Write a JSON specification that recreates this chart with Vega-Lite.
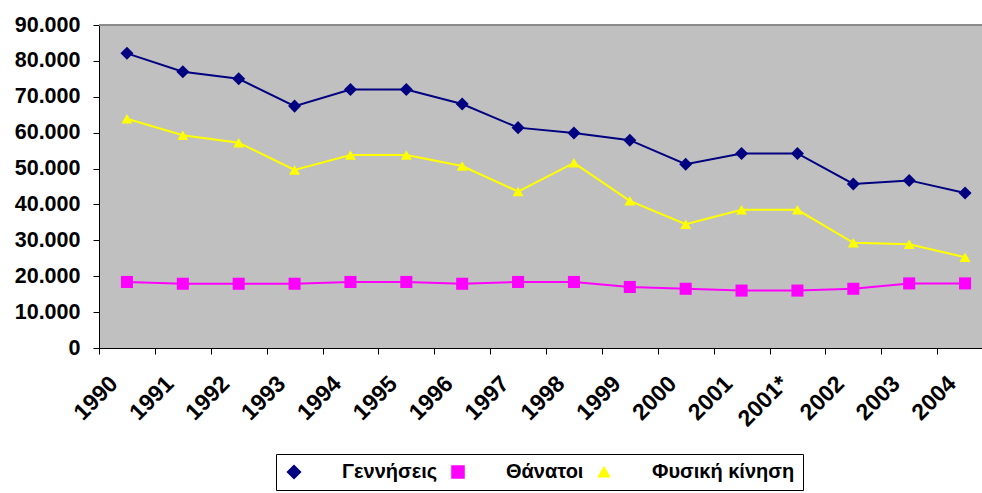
{
  "$schema": "https://vega.github.io/schema/vega-lite/v6.json",
  "autosize": {"type": "none"},
  "padding": {"left": 99, "top": 25, "right": 0, "bottom": 145},
  "width": 883,
  "height": 323,
  "background": "white",
  "config": {
    "view": {"stroke": null, "fill": "#C0C0C0"},
    "font": "Liberation Sans",
    "legend": {
      "title": null,
      "orient": "none",
      "legendX": 177,
      "legendY": 429,
      "direction": "horizontal",
      "strokeColor": "black",
      "fillColor": "white",
      "padding": 8,
      "labelFont": "Liberation Sans",
      "labelFontWeight": "bold",
      "labelFontSize": 20,
      "labelColor": "black",
      "labelLimit": 0,
      "symbolSize": 289,
      "labelOffset": 38,
      "columnPadding": 10
    }
  },
  "data": {
    "values": [
      {"year": "1990", "series": "Γεννήσεις", "value": 82100},
      {"year": "1991", "series": "Γεννήσεις", "value": 77000},
      {"year": "1992", "series": "Γεννήσεις", "value": 75000},
      {"year": "1993", "series": "Γεννήσεις", "value": 67400},
      {"year": "1994", "series": "Γεννήσεις", "value": 72000},
      {"year": "1995", "series": "Γεννήσεις", "value": 72000},
      {"year": "1996", "series": "Γεννήσεις", "value": 68000},
      {"year": "1997", "series": "Γεννήσεις", "value": 61400},
      {"year": "1998", "series": "Γεννήσεις", "value": 59900},
      {"year": "1999", "series": "Γεννήσεις", "value": 57900},
      {"year": "2000", "series": "Γεννήσεις", "value": 51200},
      {"year": "2001", "series": "Γεννήσεις", "value": 54200},
      {"year": "2001*", "series": "Γεννήσεις", "value": 54200},
      {"year": "2002", "series": "Γεννήσεις", "value": 45700},
      {"year": "2003", "series": "Γεννήσεις", "value": 46700},
      {"year": "2004", "series": "Γεννήσεις", "value": 43200},
      {"year": "1990", "series": "Θάνατοι", "value": 18400},
      {"year": "1991", "series": "Θάνατοι", "value": 17900},
      {"year": "1992", "series": "Θάνατοι", "value": 17900},
      {"year": "1993", "series": "Θάνατοι", "value": 17900},
      {"year": "1994", "series": "Θάνατοι", "value": 18400},
      {"year": "1995", "series": "Θάνατοι", "value": 18400},
      {"year": "1996", "series": "Θάνατοι", "value": 17900},
      {"year": "1997", "series": "Θάνατοι", "value": 18400},
      {"year": "1998", "series": "Θάνατοι", "value": 18400},
      {"year": "1999", "series": "Θάνατοι", "value": 17000},
      {"year": "2000", "series": "Θάνατοι", "value": 16500},
      {"year": "2001", "series": "Θάνατοι", "value": 16000},
      {"year": "2001*", "series": "Θάνατοι", "value": 16000},
      {"year": "2002", "series": "Θάνατοι", "value": 16500},
      {"year": "2003", "series": "Θάνατοι", "value": 18000},
      {"year": "2004", "series": "Θάνατοι", "value": 18000},
      {"year": "1990", "series": "Φυσική κίνηση", "value": 63900},
      {"year": "1991", "series": "Φυσική κίνηση", "value": 59300},
      {"year": "1992", "series": "Φυσική κίνηση", "value": 57200},
      {"year": "1993", "series": "Φυσική κίνηση", "value": 49600},
      {"year": "1994", "series": "Φυσική κίνηση", "value": 53800},
      {"year": "1995", "series": "Φυσική κίνηση", "value": 53800},
      {"year": "1996", "series": "Φυσική κίνηση", "value": 50700},
      {"year": "1997", "series": "Φυσική κίνηση", "value": 43600},
      {"year": "1998", "series": "Φυσική κίνηση", "value": 51600},
      {"year": "1999", "series": "Φυσική κίνηση", "value": 41000},
      {"year": "2000", "series": "Φυσική κίνηση", "value": 34500},
      {"year": "2001", "series": "Φυσική κίνηση", "value": 38500},
      {"year": "2001*", "series": "Φυσική κίνηση", "value": 38500},
      {"year": "2002", "series": "Φυσική κίνηση", "value": 29300},
      {"year": "2003", "series": "Φυσική κίνηση", "value": 28900},
      {"year": "2004", "series": "Φυσική κίνηση", "value": 25300}
    ]
  },
  "encoding": {
    "x": {
      "field": "year",
      "type": "nominal",
      "scale": {
        "type": "band",
        "paddingInner": 0,
        "paddingOuter": 0,
        "range": [0, 894],
        "domain": ["1990","1991","1992","1993","1994","1995","1996","1997","1998","1999","2000","2001","2001*","2002","2003","2004"]
      },
      "axis": {
        "title": null,
        "tickBand": "extent",
        "labelAngle": -45,
        "labelAlign": "right",
        "labelBaseline": "top",
        "labelPadding": 18,
        "labelOffset": -21,
        "labelFont": "Liberation Sans",
        "labelFontWeight": "bold",
        "labelFontSize": 23,
        "labelColor": "black",
        "tickColor": "black",
        "tickSize": 6,
        "domainColor": "black",
        "grid": false,
        "labelOverlap": false
      }
    },
    "y": {
      "field": "value",
      "type": "quantitative",
      "scale": {"domain": [0, 90000], "nice": false, "zero": true},
      "axis": {
        "title": null,
        "values": [0, 10000, 20000, 30000, 40000, 50000, 60000, 70000, 80000, 90000],
        "labelExpr": "datum.value == 0 ? '0' : replace(format(datum.value, ','), ',', '.')",
        "labelFont": "Liberation Sans",
        "labelFontWeight": "bold",
        "labelFontSize": 21.5,
        "labelColor": "black",
        "labelPadding": 13,
        "tickColor": "black",
        "tickSize": 6,
        "domainColor": "black",
        "grid": false
      }
    }
  },
  "layer": [
    {
      "mark": {"type": "rule", "color": "#8a8a8a", "strokeWidth": 1},
      "encoding": {"y": {"datum": 90000}, "x": null}
    },
    {
      "mark": {"type": "line", "strokeWidth": 2},
      "encoding": {
        "color": {
          "field": "series",
          "type": "nominal",
          "scale": {"domain": ["Γεννήσεις", "Θάνατοι", "Φυσική κίνηση"], "range": ["#000080", "#FF00FF", "#FFFF00"]}
        }
      }
    },
    {
      "mark": {"type": "point", "filled": true, "opacity": 1, "strokeWidth": 0},
      "encoding": {
        "color": {
          "field": "series",
          "type": "nominal",
          "legend": {
            "encode": {
              "symbols": {
                "shape": {"value": {"expr": "datum.value === 'Γεννήσεις' ? 'M-1,0H5M2,-0.62L2.62,0L2,0.62L1.38,0Z' : datum.value === 'Θάνατοι' ? 'M-1,0H5M1.45,-0.55H2.55V0.55H1.45Z' : 'M-1,0H5M2,-0.65L2.68,0.55L1.32,0.55Z'"}},
                "stroke": {"value": {"expr": "scale('color', datum.value)"}},
                "strokeWidth": {"value": 1.5}
              }
            }
          }
        },
        "shape": {
          "field": "series",
          "type": "nominal",
          "scale": {"domain": ["Γεννήσεις", "Θάνατοι", "Φυσική κίνηση"], "range": ["diamond", "square", "triangle-up"]},
          "legend": null
        },
        "size": {
          "field": "series",
          "type": "nominal",
          "scale": {"domain": ["Γεννήσεις", "Θάνατοι", "Φυσική κίνηση"], "range": [170, 121, 169]},
          "legend": null
        }
      }
    }
  ]
}
